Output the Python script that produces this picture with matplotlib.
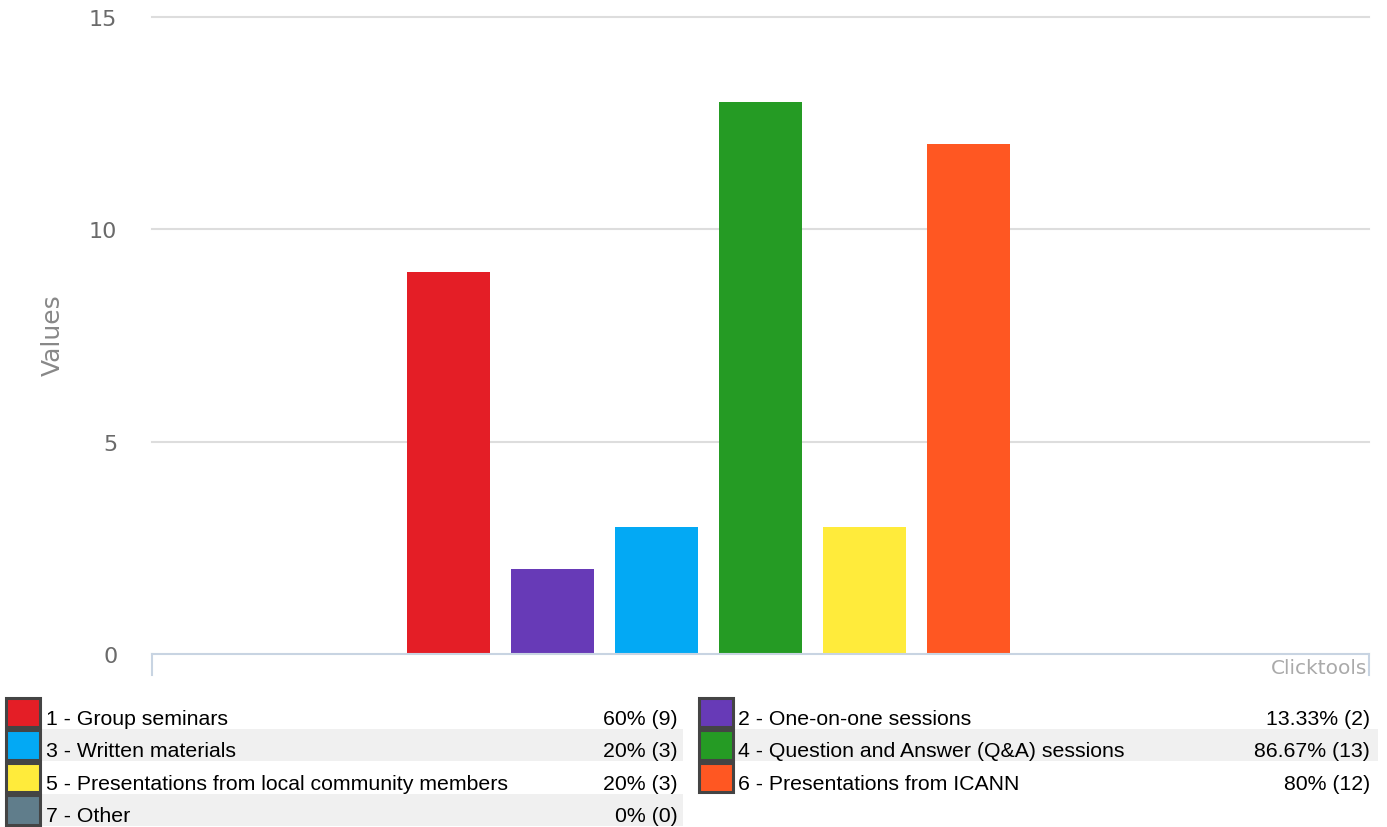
import matplotlib
matplotlib.use("Agg")
import matplotlib.pyplot as plt
import matplotlib.patches as mpatches

# ── Data ──────────────────────────────────────────────────────────
categories = [
    "1 - Group seminars",
    "2 - One-on-one sessions",
    "3 - Written materials",
    "4 - Question and Answer (Q&A) sessions",
    "5 - Presentations from local community members",
    "6 - Presentations from ICANN",
    "7 - Other",
]
counts = [9, 2, 3, 13, 3, 12, 0]
percents = [60, 13.33, 20, 86.67, 20, 80, 0]
colors = ["#E41E26", "#673AB7", "#03A9F4", "#259B24", "#FFEB3B", "#FF5722", "#607D8B"]
y_ticks = [0, 5, 10, 15]

W, H = 1387, 828


def fx(px):
    return px / W


def fy(py):
    return 1 - py / H


fig = plt.figure(figsize=(W / 100, H / 100), dpi=100)
fig.patch.set_facecolor("white")

# plot area in pixel terms
left, right, top, bottom = 152, 1369, 18, 655
ax = fig.add_axes([fx(left), fy(bottom), fx(right) - fx(left), fy(top) - fy(bottom)])

xs = list(range(len(categories)))
ax.bar(xs, counts, width=0.8, color=colors, zorder=3)
ax.set_xlim(-2.851, 8.851)
ax.set_ylim(0, 15)

for s in ax.spines.values():
    s.set_visible(False)
ax.set_xticks([])
ax.set_yticks(y_ticks)
ax.set_yticklabels([str(t) for t in y_ticks], fontsize=16, color="#6a6a6a",
                   family="DejaVu Sans")
ax.tick_params(axis="y", length=0, pad=25)
for t in y_ticks[1:]:
    ax.axhline(t, color="#dddddd", linewidth=1.5, zorder=1, clip_on=False)

# bottom axis line with end stubs
stub = -21 / (bottom - top)
ax.plot([0, 1], [0, 0], transform=ax.transAxes, color="#c8d4e2", lw=1.5,
        clip_on=False, zorder=4)
ax.plot([0, 0], [0, stub], transform=ax.transAxes, color="#c8d4e2", lw=1.5,
        clip_on=False)
ax.plot([1, 1], [0, stub], transform=ax.transAxes, color="#c8d4e2", lw=1.5,
        clip_on=False)

fig.text(fx(53), fy(335), "Values", rotation=90, fontsize=18, color="#888888",
         ha="center", va="center", family="DejaVu Sans")
fig.text(fx(1367), fy(668), "Clicktools", fontsize=14.5, color="#aaaaaa",
         ha="right", va="center", family="DejaVu Sans")

# ── Legend table ──────────────────────────────────────────────────
row_top = 697
row_h = 32.5
cols = [
    dict(sw=4, text=46, val=678, shade_end=683),
    dict(sw=697, text=738, val=1370, shade_end=1378),
]
for i, (lab, pct, n, c) in enumerate(zip(categories, percents, counts, colors)):
    col = cols[i % 2]
    row = i // 2
    y0 = row_top + row * row_h
    y1 = y0 + row_h
    if row % 2 == 1:
        fig.patches.append(mpatches.Rectangle(
            (fx(col["sw"] + 36), fy(y1)), fx(col["shade_end"] - col["sw"] - 36),
            row_h / H, transform=fig.transFigure, facecolor="#f0f0f0",
            edgecolor="none", zorder=0))
    fig.patches.append(mpatches.Rectangle(
        (fx(col["sw"] + 1.5), fy(y1 - 1.5)), fx(34), (row_h - 3) / H,
        transform=fig.transFigure, facecolor=c, edgecolor="#444444",
        linewidth=2.2, zorder=2))
    yb = fy(y0 + 28)
    fig.text(fx(col["text"]), yb, lab, fontsize=15.3, color="black",
             ha="left", va="baseline", family="Liberation Sans")
    fig.text(fx(col["val"]), yb, f"{pct:g}% ({n})", fontsize=15.3, color="black",
             ha="right", va="baseline", family="Liberation Sans")

fig.savefig("out.png", dpi=100)
